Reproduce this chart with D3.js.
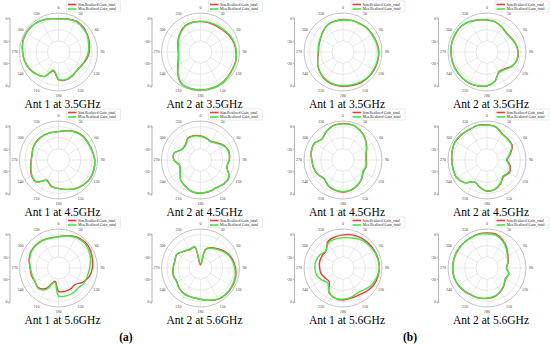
<!DOCTYPE html>
<html>
<head>
<meta charset="utf-8">
<script src="https://cdnjs.cloudflare.com/ajax/libs/d3/7.8.5/d3.min.js"></script>
<style>
  body { margin: 0; background: #fff; }
  svg { display: block; }
</style>
</head>
<body>
<script>
/* global d3 */
(function () {
  'use strict'

  // angle categories (deg, clockwise from top)
  var angles = [0, 15, 30, 45, 60, 75, 90, 105, 120, 135, 150, 165,
    180, 195, 210, 225, 240, 255, 270, 285, 300, 315, 330, 345]
  var angleTicks = [0, 30, 60, 90, 120, 150, 180, 210, 240, 270, 300, 330]
  var gridRings = [-20, -10, 0]
  var axisTicks = [0, -20]

  var titles = [
    'Ant 1 at 3.5GHz', 'Ant 2 at 3.5GHz', 'Ant 1 at 3.5GHz', 'Ant 2 at 3.5GHz',
    'Ant 1 at 4.5GHz', 'Ant 2 at 4.5GHz', 'Ant 1 at 4.5GHz', 'Ant 2 at 4.5GHz',
    'Ant 1 at 5.6GHz', 'Ant 2 at 5.6GHz', 'Ant 1 at 5.6GHz', 'Ant 2 at 5.6GHz'
  ]
  var legendNames = ['Sim.Realized Gain_total', 'Mea.Realized Gain_total']

  // realized gain (dB)
  var simA1a35 = [-0.3, 0.8, 1.9, 1.5, 0.1, -1.3, -2.4, -4.1, -5.9, -6.6, -5.2, -4.1, -5.2, -12.5, -4.5, -2, 0.1, 1.5, 2.2, 3.3, 3.6, 3.3, 2.2, 0.8]
  var meaA1a35 = [-0.3, 0.5, 1.5, 0.8, -0.3, -2, -3.1, -4.8, -6.2, -6.9, -5.5, -4.5, -5.5, -13.2, -4.8, -2, 0.3, 1.6, 2.3, 3.2, 3.7, 3.3, 2.4, 0.9]
  var simA2a35 = [-2.7, -2.7, -2.7, -2, -0.3, 1.2, 1.9, 2.6, 2.6, 3.3, 4, 4, 4, 4, 3.3, -1.3, -6.6, -9.4, -10.1, -9, -6.9, -4.8, -2.7, -2.4]
  var meaA2a35 = [-2.4, -2.2, -2, -1.3, 0.3, 1.6, 2.2, 2.8, 2.8, 3.4, 4, 4, 4, 3.9, 3.1, -1.6, -6.9, -9.7, -10.4, -9.4, -7.2, -5.2, -3, -2.6]
  var simA1b35 = [-1, -0.6, -0.3, 0.5, 0.8, 1.5, 2.2, 2.2, 2.2, 2.2, 1.9, 1.2, 0.8, 0.5, -0.3, -2, -4.1, -6.6, -8, -7.6, -6.6, -4.5, -2, -1.3]
  var meaA1b35 = [-1.3, -0.9, -0.6, 0.1, 0.4, 1.1, 1.8, 1.8, 1.7, 1.6, 1.2, 0.6, 0.2, 0, -0.7, -2.2, -4.1, -6.4, -7.6, -7.2, -6.3, -4.3, -2, -1.5]
  var simA2b35 = [-1.3, -2, -3.8, -5.5, -4.8, -3.1, -2, -2, -4.5, -8.3, -9, -2.7, 0.5, 1.5, 2.2, 2.2, 2.2, 2.2, 2.2, 2.6, 2.6, 2.6, 1.5, -0.3]
  var meaA2b35 = [-1.2, -2.1, -4.2, -5.9, -5.1, -3.4, -2.3, -2.4, -4, -7.5, -8.6, -2.9, 0.3, 1.3, 2, 2.1, 2.3, 2.4, 2.4, 2.8, 2.8, 2.7, 1.6, -0.2]

  var simA1a45 = [-4.5, -2.7, -0.6, 0.8, 0.8, 1.5, 2.6, 2.9, 2.9, 1.5, -0.3, -2.7, -4.5, -5.5, -9, -2, -2, -4.1, -5.5, -5.5, -4.5, -4.1, -4.1, -4.5]
  var meaA1a45 = [-4.5, -2.9, -1, 0.3, 0.5, 1.3, 2.5, 2.9, 2.9, 1.6, -0.1, -2.5, -4.3, -5.3, -8.6, -2.2, -2.4, -4.4, -5.7, -5.6, -4.6, -4.2, -4.2, -4.6]
  var simA2a45 = [-8.3, -9.7, -10.8, -8.3, -4.8, -3.4, -4.1, -5.5, -0.3, 0.1, -1.3, -0.6, -0.3, -0.6, -2.7, -4.8, -9, -10.8, -6.2, -5.5, -10.8, -10.8, -7.3, -7.3]
  var meaA2a45 = [-8.8, -10.2, -11.2, -8.8, -5.2, -3.6, -4.3, -5.6, -0.5, -0.1, -1.4, -0.7, -0.4, -0.7, -2.8, -4.8, -9, -10.6, -6.2, -5.6, -11, -11.2, -7.8, -7.8]
  var simA1b45 = [2.6, 2.6, 0.8, -2, -5.5, -8.3, -9, -8.3, -9, -6.2, -3.8, -2, -1.3, -2, -3.4, -6.2, -4.1, -2.7, -2, -0.6, -0.3, -3.4, -0.3, 2.2]
  var meaA1b45 = [2.4, 2.5, 0.6, -2.2, -5.8, -8.6, -9.4, -8.6, -9.4, -6.5, -4.1, -2.3, -1.6, -2.3, -3.6, -6.3, -4.1, -2.6, -1.9, -0.5, -0.2, -3.3, -0.3, 2.1]
  var simA2b45 = [1.5, 0.8, -2.7, -3.4, -3.8, -8.3, -11.8, -8.3, -6.9, -9, -5.5, -2.7, -2, -4.8, -7.3, -1.3, 1.5, 1.5, 1.5, 2.2, 2.9, 2.2, 1.5, 2.2]
  var meaA2b45 = [1.3, 0.5, -3.1, -3.9, -4.4, -9, -12.4, -9, -7.6, -9.6, -6, -3, -2.2, -4.9, -7.3, -1.3, 1.5, 1.6, 1.7, 2.4, 3, 2.4, 1.7, 2.2]

  var simA1a56 = [-2, 0.1, 2.2, 3.3, 2.9, 1.5, 0.5, -1.3, -4.8, -9, -8.3, -8.3, -9, -17.8, -9, -4.8, -5.5, -4.8, -4.5, -2.7, -1.3, -1, -1.3, -2]
  var meaA1a56 = [-2, -0.3, 1.5, 2.2, 1.5, -0.3, -2, -3.1, -3.4, -4.8, -4.1, -4.1, -4.8, -16.7, -7.6, -4.1, -5.5, -5.5, -4.8, -3.1, -1.7, -1.3, -1.7, -2.4]
  var simA2a56 = [-27.2, -12.5, -9, -6.2, -2.7, -0.3, 1.5, 2.6, 2.9, 2.9, 2.2, 0.1, -2, -2.7, -2.7, -3.4, -5.5, -4.8, -5.5, -6.2, -5.5, -9, -10.8, -10.8]
  var meaA2a56 = [-26, -13, -9.6, -7, -3.5, -1, 0.8, 2, 2.5, 2.6, 2, 0, -2, -2.6, -2.5, -3.3, -5.2, -4.6, -5.3, -6, -5.3, -8.6, -10.4, -10.4]
  var simA1b56 = [-0.3, 0.8, 1.5, 1.9, 2.2, 2.6, 2.6, 2.2, 1.5, -0.3, -2, -2, -1.3, -2, -4.8, -12.5, -11.8, -9.7, -9, -8.3, -8.3, -8.3, -2.7, -1.3]
  var meaA1b56 = [-2.7, -2, -0.3, 0.8, 1.5, 2.2, 2.6, 1.5, 0.1, -2.7, -4.1, -2.7, -2, -2, -4.8, -10.8, -8.3, -5.5, -4.8, -4.8, -6.2, -8.3, -3.8, -3.1]
  var simA2b56 = [1.5, 1.5, -1.3, -4.8, -8.3, -10.4, -12.5, -9.7, -10.8, -8.3, -5.5, -3.4, -2.7, -2, -2, -1, 0.1, 0.8, 0.8, 0.8, 0.8, 0.8, 0.8, 1.5]
  var meaA2b56 = [0.8, 0.6, -2, -5.5, -8.8, -10.8, -12.5, -9.7, -11, -8.6, -5.9, -3.8, -3, -2.2, -2.1, -1.1, 0, 0.7, 0.8, 0.8, 0.8, 0.8, 0.7, 1.1]

  var simSeries = [simA1a35, simA2a35, simA1b35, simA2b35, simA1a45, simA2a45,
    simA1b45, simA2b45, simA1a56, simA2a56, simA1b56, simA2b56]
  var meaSeries = [meaA1a35, meaA2a35, meaA1b35, meaA2b35, meaA1a45, meaA2a45,
    meaA1b45, meaA2b45, meaA1a56, meaA2a56, meaA1b56, meaA2b56]

  // layout
  var dim = { w: 550, h: 345 }
  var R = 39
  var colX = [58.5, 200.5, 343, 487]
  var rowY = [52, 160, 268]
  var colors = { sim: '#f23a3a', mea: '#3ee83e' }
  var serif = "'Liberation Serif', 'Times New Roman', serif"

  var svg = d3.select('body').append('svg')
    .attr('width', dim.w)
    .attr('height', dim.h)

  var r = d3.scaleLinear().domain([-30, 5]).range([0, R])

  var line = d3.lineRadial()
    .angle(function (d) { return d[0] * Math.PI / 180 })
    .radius(function (d) { return Math.max(0, r(d[1])) })
    .curve(d3.curveCatmullRomClosed.alpha(0.5))

  titles.forEach(function (t, i) {
    var cx = colX[i % 4]
    var cy = rowY[Math.floor(i / 4)]
    var g = svg.append('g').attr('transform', 'translate(' + cx + ',' + cy + ')')
    plotGrid(g)
    plotAxis(g)
    plotCurves(g, simSeries[i], meaSeries[i])
    plotLegend(g)

    svg.append('text')
      .attr('x', cx + 4)
      .attr('y', cy + 56)
      .attr('text-anchor', 'middle')
      .style('font-family', serif)
      .style('font-size', '11.5px')
      .text(t)
  })

  svg.append('text').attr('x', 126).attr('y', 341)
    .attr('text-anchor', 'middle')
    .style('font-family', serif).style('font-size', '11.5px').style('font-weight', 'bold')
    .text('(a)')
  svg.append('text').attr('x', 410).attr('y', 341)
    .attr('text-anchor', 'middle')
    .style('font-family', serif).style('font-size', '11.5px').style('font-weight', 'bold')
    .text('(b)')

  function plotGrid (g) {
    g.selectAll('.spoke').data(angleTicks)
      .enter().append('line')
      .attr('class', 'spoke')
      .attr('x1', function (a) { return r(-20) * Math.sin(a * Math.PI / 180) })
      .attr('y1', function (a) { return -r(-20) * Math.cos(a * Math.PI / 180) })
      .attr('x2', function (a) { return r(5) * Math.sin(a * Math.PI / 180) })
      .attr('y2', function (a) { return -r(5) * Math.cos(a * Math.PI / 180) })
      .attr('stroke', '#d4d4d4')
      .attr('stroke-width', 0.5)

    g.selectAll('.ring').data(gridRings)
      .enter().append('circle')
      .attr('class', 'ring')
      .attr('r', function (d) { return r(d) })
      .attr('fill', 'none')
      .attr('stroke', '#cfcfcf')
      .attr('stroke-width', 0.5)

    g.append('circle')
      .attr('r', r(5))
      .attr('fill', 'none')
      .attr('stroke', '#9a9a9a')
      .attr('stroke-width', 0.6)

    g.selectAll('.alab').data(angleTicks)
      .enter().append('text')
      .attr('class', 'alab')
      .attr('x', function (a) { return (R + 5) * Math.sin(a * Math.PI / 180) })
      .attr('y', function (a) { return -(R + 5) * Math.cos(a * Math.PI / 180) })
      .attr('dy', '0.35em')
      .attr('text-anchor', 'middle')
      .style('font-family', serif)
      .style('font-size', '4px')
      .style('fill', '#444')
      .text(function (a) { return a })
  }

  function plotAxis (g) {
    // radial scale shown mirrored along a vertical line
    var span = r(0) + 1
    var ay = d3.scaleLinear().domain([-span, span]).range([-span, span])
    var vals = []
    axisTicks.forEach(function (v) { vals.push(-r(v)); vals.push(r(v)) })
    var axis = d3.axisLeft(ay)
      .tickValues(vals)
      .tickSize(1.2)
      .tickPadding(0.8)
      .tickFormat(function (d) { return String(Math.round(r.invert(Math.abs(d)))) })

    var ga = g.append('g')
      .attr('transform', 'translate(-49,0)')
      .call(axis)
    ga.attr('font-size', null).attr('font-family', null)
    ga.select('.domain').attr('stroke', '#666').attr('stroke-width', 0.5)
    ga.selectAll('.tick line').attr('stroke', '#666').attr('stroke-width', 0.5)
    ga.selectAll('.tick text')
      .style('font-family', serif)
      .style('font-size', '4px')
      .style('fill', '#444')
  }

  function plotCurves (g, sim, mea) {
    var simPts = angles.map(function (a, k) { return [a, sim[k]] })
    var meaPts = angles.map(function (a, k) { return [a, mea[k]] })
    g.append('path').attr('d', line(simPts))
      .attr('fill', 'none').attr('stroke', colors.sim).attr('stroke-width', 1.4)
    g.append('path').attr('d', line(meaPts))
      .attr('fill', 'none').attr('stroke', colors.mea).attr('stroke-width', 1.4)
  }

  function plotLegend (g) {
    var lg = g.append('g').attr('transform', 'translate(8,-51)')
    lg.append('rect')
      .attr('width', 54).attr('height', 11)
      .attr('fill', '#fff')
      .attr('stroke', '#cfcfcf').attr('stroke-width', 0.4)
    legendNames.forEach(function (name, k) {
      var y = 3.5 + k * 4.5
      lg.append('line')
        .attr('x1', 1.5).attr('x2', 10).attr('y1', y).attr('y2', y)
        .attr('stroke', k === 0 ? colors.sim : colors.mea)
        .attr('stroke-width', 1.6)
      lg.append('text')
        .attr('x', 11.5).attr('y', y).attr('dy', '0.35em')
        .style('font-family', serif)
        .style('font-size', '3.8px')
        .style('fill', '#222')
        .text(name)
    })
  }
}())
</script>
</body>
</html>
